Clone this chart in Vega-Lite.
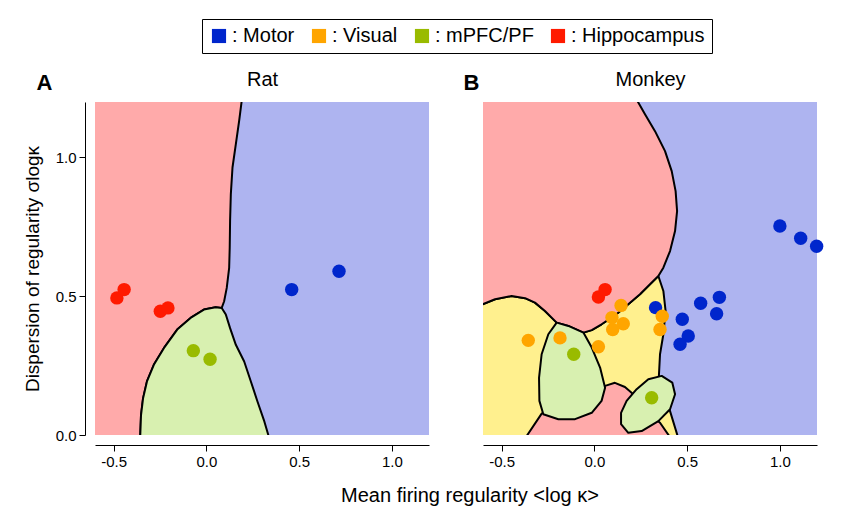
{
  "$schema": "https://vega.github.io/schema/vega-lite/v6.json",
  "padding": {"left": 23, "top": 18, "right": 5, "bottom": 5},
  "bounds": "flush",
  "spacing": 54,
  "config": {
    "view": {"stroke": null},
    "font": "Liberation Sans",
    "axis": {"grid": false, "domainColor": "black", "tickColor": "black", "labelColor": "black", "titleColor": "black", "labelFont": "Liberation Sans", "titleFont": "Liberation Sans"}
  },
  "resolve": {"scale": {"color": "independent"}, "legend": {"color": "independent"}},
  "datasets": {
    "regions": [
      {"panel": "Rat", "piece": "bg", "cls": "Motor", "i": 0, "x": -1, "y": -0.3},
      {"panel": "Rat", "piece": "bg", "cls": "Motor", "i": 1, "x": 1.5, "y": -0.3},
      {"panel": "Rat", "piece": "bg", "cls": "Motor", "i": 2, "x": 1.5, "y": 1.5},
      {"panel": "Rat", "piece": "bg", "cls": "Motor", "i": 3, "x": -1, "y": 1.5},

      {"panel": "Rat", "piece": "red", "cls": "Hippocampus", "i": 0, "x": -1, "y": 1.5},
      {"panel": "Rat", "piece": "red", "cls": "Hippocampus", "i": 1, "x": 0.205, "y": 1.5},
      {"panel": "Rat", "piece": "red", "cls": "Hippocampus", "i": 2, "x": 0.19, "y": 1.201},
      {"panel": "Rat", "piece": "red", "cls": "Hippocampus", "i": 3, "x": 0.177, "y": 1.133},
      {"panel": "Rat", "piece": "red", "cls": "Hippocampus", "i": 4, "x": 0.159, "y": 1.048},
      {"panel": "Rat", "piece": "red", "cls": "Hippocampus", "i": 5, "x": 0.141, "y": 0.964},
      {"panel": "Rat", "piece": "red", "cls": "Hippocampus", "i": 6, "x": 0.132, "y": 0.868},
      {"panel": "Rat", "piece": "red", "cls": "Hippocampus", "i": 7, "x": 0.128, "y": 0.771},
      {"panel": "Rat", "piece": "red", "cls": "Hippocampus", "i": 8, "x": 0.126, "y": 0.675},
      {"panel": "Rat", "piece": "red", "cls": "Hippocampus", "i": 9, "x": 0.123, "y": 0.602},
      {"panel": "Rat", "piece": "red", "cls": "Hippocampus", "i": 10, "x": 0.11, "y": 0.53},
      {"panel": "Rat", "piece": "red", "cls": "Hippocampus", "i": 11, "x": 0.096, "y": 0.482},
      {"panel": "Rat", "piece": "red", "cls": "Hippocampus", "i": 12, "x": 0.083, "y": 0.458},
      {"panel": "Rat", "piece": "red", "cls": "Hippocampus", "i": 13, "x": 0.05, "y": 0.46},
      {"panel": "Rat", "piece": "red", "cls": "Hippocampus", "i": 14, "x": -0.013, "y": 0.452},
      {"panel": "Rat", "piece": "red", "cls": "Hippocampus", "i": 15, "x": -0.085, "y": 0.422},
      {"panel": "Rat", "piece": "red", "cls": "Hippocampus", "i": 16, "x": -0.157, "y": 0.38},
      {"panel": "Rat", "piece": "red", "cls": "Hippocampus", "i": 17, "x": -0.229, "y": 0.313},
      {"panel": "Rat", "piece": "red", "cls": "Hippocampus", "i": 18, "x": -0.283, "y": 0.253},
      {"panel": "Rat", "piece": "red", "cls": "Hippocampus", "i": 19, "x": -0.32, "y": 0.193},
      {"panel": "Rat", "piece": "red", "cls": "Hippocampus", "i": 20, "x": -0.341, "y": 0.132},
      {"panel": "Rat", "piece": "red", "cls": "Hippocampus", "i": 21, "x": -0.352, "y": 0.072},
      {"panel": "Rat", "piece": "red", "cls": "Hippocampus", "i": 22, "x": -0.356, "y": 0.0},
      {"panel": "Rat", "piece": "red", "cls": "Hippocampus", "i": 23, "x": -0.357, "y": -0.3},
      {"panel": "Rat", "piece": "red", "cls": "Hippocampus", "i": 24, "x": -1, "y": -0.3},

      {"panel": "Rat", "piece": "green", "cls": "mPFC/PF", "i": 0, "x": 0.083, "y": 0.458},
      {"panel": "Rat", "piece": "green", "cls": "mPFC/PF", "i": 1, "x": 0.05, "y": 0.46},
      {"panel": "Rat", "piece": "green", "cls": "mPFC/PF", "i": 2, "x": -0.013, "y": 0.452},
      {"panel": "Rat", "piece": "green", "cls": "mPFC/PF", "i": 3, "x": -0.085, "y": 0.422},
      {"panel": "Rat", "piece": "green", "cls": "mPFC/PF", "i": 4, "x": -0.157, "y": 0.38},
      {"panel": "Rat", "piece": "green", "cls": "mPFC/PF", "i": 5, "x": -0.229, "y": 0.313},
      {"panel": "Rat", "piece": "green", "cls": "mPFC/PF", "i": 6, "x": -0.283, "y": 0.253},
      {"panel": "Rat", "piece": "green", "cls": "mPFC/PF", "i": 7, "x": -0.32, "y": 0.193},
      {"panel": "Rat", "piece": "green", "cls": "mPFC/PF", "i": 8, "x": -0.341, "y": 0.132},
      {"panel": "Rat", "piece": "green", "cls": "mPFC/PF", "i": 9, "x": -0.352, "y": 0.072},
      {"panel": "Rat", "piece": "green", "cls": "mPFC/PF", "i": 10, "x": -0.356, "y": 0.0},
      {"panel": "Rat", "piece": "green", "cls": "mPFC/PF", "i": 11, "x": -0.357, "y": -0.3},
      {"panel": "Rat", "piece": "green", "cls": "mPFC/PF", "i": 12, "x": 0.336, "y": -0.3},
      {"panel": "Rat", "piece": "green", "cls": "mPFC/PF", "i": 13, "x": 0.334, "y": 0.0},
      {"panel": "Rat", "piece": "green", "cls": "mPFC/PF", "i": 14, "x": 0.313, "y": 0.048},
      {"panel": "Rat", "piece": "green", "cls": "mPFC/PF", "i": 15, "x": 0.276, "y": 0.12},
      {"panel": "Rat", "piece": "green", "cls": "mPFC/PF", "i": 16, "x": 0.24, "y": 0.193},
      {"panel": "Rat", "piece": "green", "cls": "mPFC/PF", "i": 17, "x": 0.204, "y": 0.265},
      {"panel": "Rat", "piece": "green", "cls": "mPFC/PF", "i": 18, "x": 0.159, "y": 0.325},
      {"panel": "Rat", "piece": "green", "cls": "mPFC/PF", "i": 19, "x": 0.128, "y": 0.385},
      {"panel": "Rat", "piece": "green", "cls": "mPFC/PF", "i": 20, "x": 0.105, "y": 0.434},

      {"panel": "Monkey", "piece": "bg", "cls": "Motor", "i": 0, "x": -1, "y": -0.3},
      {"panel": "Monkey", "piece": "bg", "cls": "Motor", "i": 1, "x": 1.5, "y": -0.3},
      {"panel": "Monkey", "piece": "bg", "cls": "Motor", "i": 2, "x": 1.5, "y": 1.5},
      {"panel": "Monkey", "piece": "bg", "cls": "Motor", "i": 3, "x": -1, "y": 1.5},

      {"panel": "Monkey", "piece": "yellow", "cls": "Visual", "i": 0, "x": -0.9, "y": 0.4},
      {"panel": "Monkey", "piece": "yellow", "cls": "Visual", "i": 1, "x": -0.603, "y": 0.471},
      {"panel": "Monkey", "piece": "yellow", "cls": "Visual", "i": 2, "x": -0.535, "y": 0.489},
      {"panel": "Monkey", "piece": "yellow", "cls": "Visual", "i": 3, "x": -0.446, "y": 0.501},
      {"panel": "Monkey", "piece": "yellow", "cls": "Visual", "i": 4, "x": -0.373, "y": 0.493},
      {"panel": "Monkey", "piece": "yellow", "cls": "Visual", "i": 5, "x": -0.32, "y": 0.477},
      {"panel": "Monkey", "piece": "yellow", "cls": "Visual", "i": 6, "x": -0.266, "y": 0.447},
      {"panel": "Monkey", "piece": "yellow", "cls": "Visual", "i": 7, "x": -0.203, "y": 0.405},
      {"panel": "Monkey", "piece": "yellow", "cls": "Visual", "i": 8, "x": -0.14, "y": 0.393},
      {"panel": "Monkey", "piece": "yellow", "cls": "Visual", "i": 9, "x": -0.059, "y": 0.369},
      {"panel": "Monkey", "piece": "yellow", "cls": "Visual", "i": 10, "x": -0.014, "y": 0.378},
      {"panel": "Monkey", "piece": "yellow", "cls": "Visual", "i": 11, "x": 0.039, "y": 0.399},
      {"panel": "Monkey", "piece": "yellow", "cls": "Visual", "i": 12, "x": 0.111, "y": 0.431},
      {"panel": "Monkey", "piece": "yellow", "cls": "Visual", "i": 13, "x": 0.183, "y": 0.471},
      {"panel": "Monkey", "piece": "yellow", "cls": "Visual", "i": 14, "x": 0.246, "y": 0.507},
      {"panel": "Monkey", "piece": "yellow", "cls": "Visual", "i": 15, "x": 0.3, "y": 0.543},
      {"panel": "Monkey", "piece": "yellow", "cls": "Visual", "i": 16, "x": 0.345, "y": 0.573},
      {"panel": "Monkey", "piece": "yellow", "cls": "Visual", "i": 17, "x": 0.372, "y": 0.519},
      {"panel": "Monkey", "piece": "yellow", "cls": "Visual", "i": 18, "x": 0.384, "y": 0.447},
      {"panel": "Monkey", "piece": "yellow", "cls": "Visual", "i": 19, "x": 0.372, "y": 0.363},
      {"panel": "Monkey", "piece": "yellow", "cls": "Visual", "i": 20, "x": 0.354, "y": 0.291},
      {"panel": "Monkey", "piece": "yellow", "cls": "Visual", "i": 21, "x": 0.348, "y": 0.213},
      {"panel": "Monkey", "piece": "yellow", "cls": "Visual", "i": 22, "x": 0.408, "y": 0.086},
      {"panel": "Monkey", "piece": "yellow", "cls": "Visual", "i": 23, "x": 0.449, "y": -0.004},
      {"panel": "Monkey", "piece": "yellow", "cls": "Visual", "i": 24, "x": 0.455, "y": -0.3},
      {"panel": "Monkey", "piece": "yellow", "cls": "Visual", "i": 25, "x": -0.9, "y": -0.3},

      {"panel": "Monkey", "piece": "redtop", "cls": "Hippocampus", "i": 0, "x": -0.9, "y": 0.4},
      {"panel": "Monkey", "piece": "redtop", "cls": "Hippocampus", "i": 1, "x": -0.9, "y": 1.5},
      {"panel": "Monkey", "piece": "redtop", "cls": "Hippocampus", "i": 2, "x": 0.2, "y": 1.5},
      {"panel": "Monkey", "piece": "redtop", "cls": "Hippocampus", "i": 3, "x": 0.232, "y": 1.204},
      {"panel": "Monkey", "piece": "redtop", "cls": "Hippocampus", "i": 4, "x": 0.273, "y": 1.156},
      {"panel": "Monkey", "piece": "redtop", "cls": "Hippocampus", "i": 5, "x": 0.327, "y": 1.095},
      {"panel": "Monkey", "piece": "redtop", "cls": "Hippocampus", "i": 6, "x": 0.381, "y": 1.023},
      {"panel": "Monkey", "piece": "redtop", "cls": "Hippocampus", "i": 7, "x": 0.417, "y": 0.951},
      {"panel": "Monkey", "piece": "redtop", "cls": "Hippocampus", "i": 8, "x": 0.438, "y": 0.879},
      {"panel": "Monkey", "piece": "redtop", "cls": "Hippocampus", "i": 9, "x": 0.446, "y": 0.807},
      {"panel": "Monkey", "piece": "redtop", "cls": "Hippocampus", "i": 10, "x": 0.435, "y": 0.735},
      {"panel": "Monkey", "piece": "redtop", "cls": "Hippocampus", "i": 11, "x": 0.408, "y": 0.663},
      {"panel": "Monkey", "piece": "redtop", "cls": "Hippocampus", "i": 12, "x": 0.372, "y": 0.603},
      {"panel": "Monkey", "piece": "redtop", "cls": "Hippocampus", "i": 13, "x": 0.345, "y": 0.573},
      {"panel": "Monkey", "piece": "redtop", "cls": "Hippocampus", "i": 14, "x": 0.3, "y": 0.543},
      {"panel": "Monkey", "piece": "redtop", "cls": "Hippocampus", "i": 15, "x": 0.246, "y": 0.507},
      {"panel": "Monkey", "piece": "redtop", "cls": "Hippocampus", "i": 16, "x": 0.183, "y": 0.471},
      {"panel": "Monkey", "piece": "redtop", "cls": "Hippocampus", "i": 17, "x": 0.111, "y": 0.431},
      {"panel": "Monkey", "piece": "redtop", "cls": "Hippocampus", "i": 18, "x": 0.039, "y": 0.399},
      {"panel": "Monkey", "piece": "redtop", "cls": "Hippocampus", "i": 19, "x": -0.014, "y": 0.378},
      {"panel": "Monkey", "piece": "redtop", "cls": "Hippocampus", "i": 20, "x": -0.059, "y": 0.369},
      {"panel": "Monkey", "piece": "redtop", "cls": "Hippocampus", "i": 21, "x": -0.14, "y": 0.393},
      {"panel": "Monkey", "piece": "redtop", "cls": "Hippocampus", "i": 22, "x": -0.203, "y": 0.405},
      {"panel": "Monkey", "piece": "redtop", "cls": "Hippocampus", "i": 23, "x": -0.266, "y": 0.447},
      {"panel": "Monkey", "piece": "redtop", "cls": "Hippocampus", "i": 24, "x": -0.32, "y": 0.477},
      {"panel": "Monkey", "piece": "redtop", "cls": "Hippocampus", "i": 25, "x": -0.373, "y": 0.493},
      {"panel": "Monkey", "piece": "redtop", "cls": "Hippocampus", "i": 26, "x": -0.446, "y": 0.501},
      {"panel": "Monkey", "piece": "redtop", "cls": "Hippocampus", "i": 27, "x": -0.535, "y": 0.489},
      {"panel": "Monkey", "piece": "redtop", "cls": "Hippocampus", "i": 28, "x": -0.603, "y": 0.471},

      {"panel": "Monkey", "piece": "redbot", "cls": "Hippocampus", "i": 0, "x": -0.283, "y": 0.078},
      {"panel": "Monkey", "piece": "redbot", "cls": "Hippocampus", "i": 1, "x": -0.365, "y": -0.004},
      {"panel": "Monkey", "piece": "redbot", "cls": "Hippocampus", "i": 2, "x": -0.37, "y": -0.3},
      {"panel": "Monkey", "piece": "redbot", "cls": "Hippocampus", "i": 3, "x": 0.405, "y": -0.3},
      {"panel": "Monkey", "piece": "redbot", "cls": "Hippocampus", "i": 4, "x": 0.404, "y": -0.004},
      {"panel": "Monkey", "piece": "redbot", "cls": "Hippocampus", "i": 5, "x": 0.354, "y": 0.044},
      {"panel": "Monkey", "piece": "redbot", "cls": "Hippocampus", "i": 6, "x": 0.25, "y": 0.1},
      {"panel": "Monkey", "piece": "redbot", "cls": "Hippocampus", "i": 7, "x": 0.21, "y": 0.147},
      {"panel": "Monkey", "piece": "redbot", "cls": "Hippocampus", "i": 8, "x": 0.165, "y": 0.173},
      {"panel": "Monkey", "piece": "redbot", "cls": "Hippocampus", "i": 9, "x": 0.111, "y": 0.188},
      {"panel": "Monkey", "piece": "redbot", "cls": "Hippocampus", "i": 10, "x": 0.058, "y": 0.177},
      {"panel": "Monkey", "piece": "redbot", "cls": "Hippocampus", "i": 11, "x": -0.15, "y": 0.11},

      {"panel": "Monkey", "piece": "green1", "cls": "mPFC/PF", "i": 0, "x": -0.203, "y": 0.405},
      {"panel": "Monkey", "piece": "green1", "cls": "mPFC/PF", "i": 1, "x": -0.14, "y": 0.393},
      {"panel": "Monkey", "piece": "green1", "cls": "mPFC/PF", "i": 2, "x": -0.059, "y": 0.369},
      {"panel": "Monkey", "piece": "green1", "cls": "mPFC/PF", "i": 3, "x": -0.014, "y": 0.315},
      {"panel": "Monkey", "piece": "green1", "cls": "mPFC/PF", "i": 4, "x": 0.031, "y": 0.243},
      {"panel": "Monkey", "piece": "green1", "cls": "mPFC/PF", "i": 5, "x": 0.058, "y": 0.17},
      {"panel": "Monkey", "piece": "green1", "cls": "mPFC/PF", "i": 6, "x": 0.039, "y": 0.123},
      {"panel": "Monkey", "piece": "green1", "cls": "mPFC/PF", "i": 7, "x": -0.014, "y": 0.08},
      {"panel": "Monkey", "piece": "green1", "cls": "mPFC/PF", "i": 8, "x": -0.104, "y": 0.057},
      {"panel": "Monkey", "piece": "green1", "cls": "mPFC/PF", "i": 9, "x": -0.194, "y": 0.057},
      {"panel": "Monkey", "piece": "green1", "cls": "mPFC/PF", "i": 10, "x": -0.275, "y": 0.075},
      {"panel": "Monkey", "piece": "green1", "cls": "mPFC/PF", "i": 11, "x": -0.296, "y": 0.123},
      {"panel": "Monkey", "piece": "green1", "cls": "mPFC/PF", "i": 12, "x": -0.298, "y": 0.206},
      {"panel": "Monkey", "piece": "green1", "cls": "mPFC/PF", "i": 13, "x": -0.284, "y": 0.291},
      {"panel": "Monkey", "piece": "green1", "cls": "mPFC/PF", "i": 14, "x": -0.248, "y": 0.363},

      {"panel": "Monkey", "piece": "green2", "cls": "mPFC/PF", "i": 0, "x": 0.363, "y": 0.213},
      {"panel": "Monkey", "piece": "green2", "cls": "mPFC/PF", "i": 1, "x": 0.42, "y": 0.189},
      {"panel": "Monkey", "piece": "green2", "cls": "mPFC/PF", "i": 2, "x": 0.435, "y": 0.147},
      {"panel": "Monkey", "piece": "green2", "cls": "mPFC/PF", "i": 3, "x": 0.408, "y": 0.093},
      {"panel": "Monkey", "piece": "green2", "cls": "mPFC/PF", "i": 4, "x": 0.345, "y": 0.05},
      {"panel": "Monkey", "piece": "green2", "cls": "mPFC/PF", "i": 5, "x": 0.255, "y": 0.014},
      {"panel": "Monkey", "piece": "green2", "cls": "mPFC/PF", "i": 6, "x": 0.183, "y": 0.008},
      {"panel": "Monkey", "piece": "green2", "cls": "mPFC/PF", "i": 7, "x": 0.144, "y": 0.039},
      {"panel": "Monkey", "piece": "green2", "cls": "mPFC/PF", "i": 8, "x": 0.144, "y": 0.08},
      {"panel": "Monkey", "piece": "green2", "cls": "mPFC/PF", "i": 9, "x": 0.174, "y": 0.123},
      {"panel": "Monkey", "piece": "green2", "cls": "mPFC/PF", "i": 10, "x": 0.228, "y": 0.165},
      {"panel": "Monkey", "piece": "green2", "cls": "mPFC/PF", "i": 11, "x": 0.291, "y": 0.201}
    ],
    "points": [
      {"panel": "Rat", "cls": "Hippocampus", "x": -0.482, "y": 0.494},
      {"panel": "Rat", "cls": "Hippocampus", "x": -0.443, "y": 0.524},
      {"panel": "Rat", "cls": "Hippocampus", "x": -0.248, "y": 0.446},
      {"panel": "Rat", "cls": "Hippocampus", "x": -0.207, "y": 0.458},
      {"panel": "Rat", "cls": "mPFC/PF", "x": -0.07, "y": 0.304},
      {"panel": "Rat", "cls": "mPFC/PF", "x": 0.02, "y": 0.273},
      {"panel": "Rat", "cls": "Motor", "x": 0.46, "y": 0.524},
      {"panel": "Rat", "cls": "Motor", "x": 0.715, "y": 0.59},
      {"panel": "Monkey", "cls": "Motor", "x": 1.0, "y": 0.753},
      {"panel": "Monkey", "cls": "Motor", "x": 1.112, "y": 0.709},
      {"panel": "Monkey", "cls": "Motor", "x": 1.198, "y": 0.68},
      {"panel": "Monkey", "cls": "Motor", "x": 0.33, "y": 0.459},
      {"panel": "Monkey", "cls": "Motor", "x": 0.573, "y": 0.475},
      {"panel": "Monkey", "cls": "Motor", "x": 0.674, "y": 0.496},
      {"panel": "Monkey", "cls": "Motor", "x": 0.659, "y": 0.437},
      {"panel": "Monkey", "cls": "Motor", "x": 0.474, "y": 0.417},
      {"panel": "Monkey", "cls": "Motor", "x": 0.506, "y": 0.357},
      {"panel": "Monkey", "cls": "Motor", "x": 0.462, "y": 0.327},
      {"panel": "Monkey", "cls": "Hippocampus", "x": 0.022, "y": 0.497},
      {"panel": "Monkey", "cls": "Hippocampus", "x": 0.058, "y": 0.524},
      {"panel": "Monkey", "cls": "Visual", "x": 0.144, "y": 0.467},
      {"panel": "Monkey", "cls": "Visual", "x": 0.095, "y": 0.423},
      {"panel": "Monkey", "cls": "Visual", "x": 0.156, "y": 0.401},
      {"panel": "Monkey", "cls": "Visual", "x": 0.099, "y": 0.38},
      {"panel": "Monkey", "cls": "Visual", "x": 0.366, "y": 0.428},
      {"panel": "Monkey", "cls": "Visual", "x": 0.354, "y": 0.38},
      {"panel": "Monkey", "cls": "Visual", "x": -0.356, "y": 0.341},
      {"panel": "Monkey", "cls": "Visual", "x": -0.185, "y": 0.35},
      {"panel": "Monkey", "cls": "Visual", "x": 0.022, "y": 0.318},
      {"panel": "Monkey", "cls": "mPFC/PF", "x": -0.111, "y": 0.291},
      {"panel": "Monkey", "cls": "mPFC/PF", "x": 0.309, "y": 0.134}
    ]
  },
  "hconcat": [
    {
      "width": 334,
      "height": 333,
      "resolve": {"axis": {"x": "independent", "y": "independent"}},
      "layer": [
        {
          "data": {"name": "regions"},
          "transform": [{"filter": "datum.panel == 'Rat' && datum.piece == 'bg'"}],
          "mark": {"type": "line", "fill": "#aeb4f0", "stroke": "black", "strokeWidth": 2, "strokeJoin": "round", "interpolate": "linear-closed", "clip": true},
          "encoding": {
            "x": {"field": "x", "type": "quantitative", "scale": {"domain": [-0.6, 1.2], "nice": false, "zero": false},
              "axis": {"orient": "top", "title": "Rat", "domain": false, "ticks": false, "labels": false, "titleFontSize": 20, "titleFontWeight": "normal", "titleX": 167, "titleY": -17, "titleAlign": "center", "titleBaseline": "alphabetic"}},
            "y": {"field": "y", "type": "quantitative", "scale": {"domain": [0, 1.2], "nice": false, "zero": false},
              "axis": {"orient": "left", "title": "A", "domain": false, "ticks": false, "labels": false, "titleAngle": 0, "titleFontSize": 22, "titleFontWeight": "bold", "titleX": -59, "titleY": -13, "titleAlign": "left", "titleBaseline": "alphabetic"}},
            "detail": {"field": "piece"},
            "order": {"field": "i", "type": "quantitative"}
          }
        },
        {
          "data": {"name": "regions"},
          "transform": [{"filter": "datum.panel == 'Rat' && datum.piece == 'red'"}],
          "mark": {"type": "line", "fill": "#ffaaaa", "stroke": "black", "strokeWidth": 2, "strokeJoin": "round", "interpolate": "linear-closed", "clip": true},
          "encoding": {
            "x": {"field": "x", "type": "quantitative", "scale": {"domain": [-0.6, 1.2], "nice": false, "zero": false}, "axis": null},
            "y": {"field": "y", "type": "quantitative", "scale": {"domain": [0, 1.2], "nice": false, "zero": false}, "axis": null},
            "detail": {"field": "piece"},
            "order": {"field": "i", "type": "quantitative"}
          }
        },
        {
          "data": {"name": "regions"},
          "transform": [{"filter": "datum.panel == 'Rat' && datum.piece == 'green'"}],
          "mark": {"type": "line", "fill": "#d8f0b0", "stroke": "black", "strokeWidth": 2, "strokeJoin": "round", "interpolate": "linear-closed", "clip": true},
          "encoding": {
            "x": {"field": "x", "type": "quantitative", "scale": {"domain": [-0.6, 1.2], "nice": false, "zero": false}, "axis": null},
            "y": {"field": "y", "type": "quantitative", "scale": {"domain": [0, 1.2], "nice": false, "zero": false}, "axis": null},
            "detail": {"field": "piece"},
            "order": {"field": "i", "type": "quantitative"}
          }
        },
        {
          "data": {"name": "points"},
          "transform": [{"filter": "datum.panel == 'Rat'"}],
          "mark": {"type": "circle", "size": 180, "opacity": 1},
          "encoding": {
            "x": {"field": "x", "type": "quantitative", "scale": {"domain": [-0.6, 1.2], "nice": false, "zero": false},
              "axis": {"orient": "bottom", "offset": 10, "values": [-0.5, 0, 0.5, 1], "labelExpr": "datum.value < 0 ? '-' + format(-datum.value, '.1f') : format(datum.value, '.1f')", "tickSize": 6, "labelFontSize": 15, "labelPadding": 3, "title": "Mean firing regularity <log κ>", "titleFontSize": 20, "titleFontWeight": "normal", "titleX": 374.5, "titleY": 56, "titleAlign": "center", "titleBaseline": "alphabetic"}},
            "y": {"field": "y", "type": "quantitative", "scale": {"domain": [0, 1.2], "nice": false, "zero": false},
              "axis": {"orient": "left", "offset": 10, "values": [0, 0.5, 1], "labelExpr": "format(datum.value, '.1f')", "tickSize": 6, "labelFontSize": 15, "labelPadding": 3, "title": "Dispersion of regularity σlogκ", "titleFontSize": 19, "titleFontWeight": "normal", "titleX": -47, "titleY": 166.5, "titleAlign": "center", "titleBaseline": "alphabetic"}},
            "color": {"field": "cls", "type": "nominal", "scale": {"domain": ["Motor", "Visual", "mPFC/PF", "Hippocampus"], "range": ["#0026cc", "#ffa500", "#99bb00", "#ff1a00"]},
              "legend": {"orient": "none", "legendX": 107, "legendY": -83, "direction": "horizontal", "title": null, "symbolType": "square", "symbolSize": 200, "symbolStrokeWidth": 0, "labelFontSize": 20, "labelFont": "Liberation Sans", "labelColor": "black", "labelExpr": "': ' + datum.label", "labelOffset": 3, "columnPadding": 14, "padding": 7, "strokeColor": "black", "fillColor": "white"}}
          }
        }
      ]
    },
    {
      "width": 334,
      "height": 333,
      "resolve": {"axis": {"x": "independent", "y": "independent"}},
      "layer": [
        {
          "data": {"name": "regions"},
          "transform": [{"filter": "datum.panel == 'Monkey' && datum.piece == 'bg'"}],
          "mark": {"type": "line", "fill": "#aeb4f0", "stroke": "black", "strokeWidth": 2, "strokeJoin": "round", "interpolate": "linear-closed", "clip": true},
          "encoding": {
            "x": {"field": "x", "type": "quantitative", "scale": {"domain": [-0.6, 1.2], "nice": false, "zero": false},
              "axis": {"orient": "top", "title": "Monkey", "domain": false, "ticks": false, "labels": false, "titleFontSize": 20, "titleFontWeight": "normal", "titleX": 167, "titleY": -17, "titleAlign": "center", "titleBaseline": "alphabetic"}},
            "y": {"field": "y", "type": "quantitative", "scale": {"domain": [0, 1.2], "nice": false, "zero": false},
              "axis": {"orient": "left", "title": "B", "domain": false, "ticks": false, "labels": false, "titleAngle": 0, "titleFontSize": 22, "titleFontWeight": "bold", "titleX": -20, "titleY": -13, "titleAlign": "left", "titleBaseline": "alphabetic"}},
            "detail": {"field": "piece"},
            "order": {"field": "i", "type": "quantitative"}
          }
        },
        {
          "data": {"name": "regions"},
          "transform": [{"filter": "datum.panel == 'Monkey' && datum.piece == 'yellow'"}],
          "mark": {"type": "line", "fill": "#fff08e", "stroke": "black", "strokeWidth": 2, "strokeJoin": "round", "interpolate": "linear-closed", "clip": true},
          "encoding": {
            "x": {"field": "x", "type": "quantitative", "scale": {"domain": [-0.6, 1.2], "nice": false, "zero": false}, "axis": null},
            "y": {"field": "y", "type": "quantitative", "scale": {"domain": [0, 1.2], "nice": false, "zero": false}, "axis": null},
            "detail": {"field": "piece"},
            "order": {"field": "i", "type": "quantitative"}
          }
        },
        {
          "data": {"name": "regions"},
          "transform": [{"filter": "datum.panel == 'Monkey' && (datum.piece == 'redtop' || datum.piece == 'redbot')"}],
          "mark": {"type": "line", "fill": "#ffaaaa", "stroke": "black", "strokeWidth": 2, "strokeJoin": "round", "interpolate": "linear-closed", "clip": true},
          "encoding": {
            "x": {"field": "x", "type": "quantitative", "scale": {"domain": [-0.6, 1.2], "nice": false, "zero": false}, "axis": null},
            "y": {"field": "y", "type": "quantitative", "scale": {"domain": [0, 1.2], "nice": false, "zero": false}, "axis": null},
            "detail": {"field": "piece"},
            "order": {"field": "i", "type": "quantitative"}
          }
        },
        {
          "data": {"name": "regions"},
          "transform": [{"filter": "datum.panel == 'Monkey' && (datum.piece == 'green1' || datum.piece == 'green2')"}],
          "mark": {"type": "line", "fill": "#d8f0b0", "stroke": "black", "strokeWidth": 2, "strokeJoin": "round", "interpolate": "linear-closed", "clip": true},
          "encoding": {
            "x": {"field": "x", "type": "quantitative", "scale": {"domain": [-0.6, 1.2], "nice": false, "zero": false}, "axis": null},
            "y": {"field": "y", "type": "quantitative", "scale": {"domain": [0, 1.2], "nice": false, "zero": false}, "axis": null},
            "detail": {"field": "piece"},
            "order": {"field": "i", "type": "quantitative"}
          }
        },
        {
          "data": {"name": "points"},
          "transform": [{"filter": "datum.panel == 'Monkey'"}],
          "mark": {"type": "circle", "size": 180, "opacity": 1},
          "encoding": {
            "x": {"field": "x", "type": "quantitative", "scale": {"domain": [-0.6, 1.2], "nice": false, "zero": false},
              "axis": {"orient": "bottom", "offset": 10, "values": [-0.5, 0, 0.5, 1], "labelExpr": "datum.value < 0 ? '-' + format(-datum.value, '.1f') : format(datum.value, '.1f')", "tickSize": 6, "labelFontSize": 15, "labelPadding": 3, "title": null}},
            "y": {"field": "y", "type": "quantitative", "scale": {"domain": [0, 1.2], "nice": false, "zero": false}, "axis": null},
            "color": {"field": "cls", "type": "nominal", "scale": {"domain": ["Motor", "Visual", "mPFC/PF", "Hippocampus"], "range": ["#0026cc", "#ffa500", "#99bb00", "#ff1a00"]}, "legend": null}
          }
        }
      ]
    }
  ]
}
